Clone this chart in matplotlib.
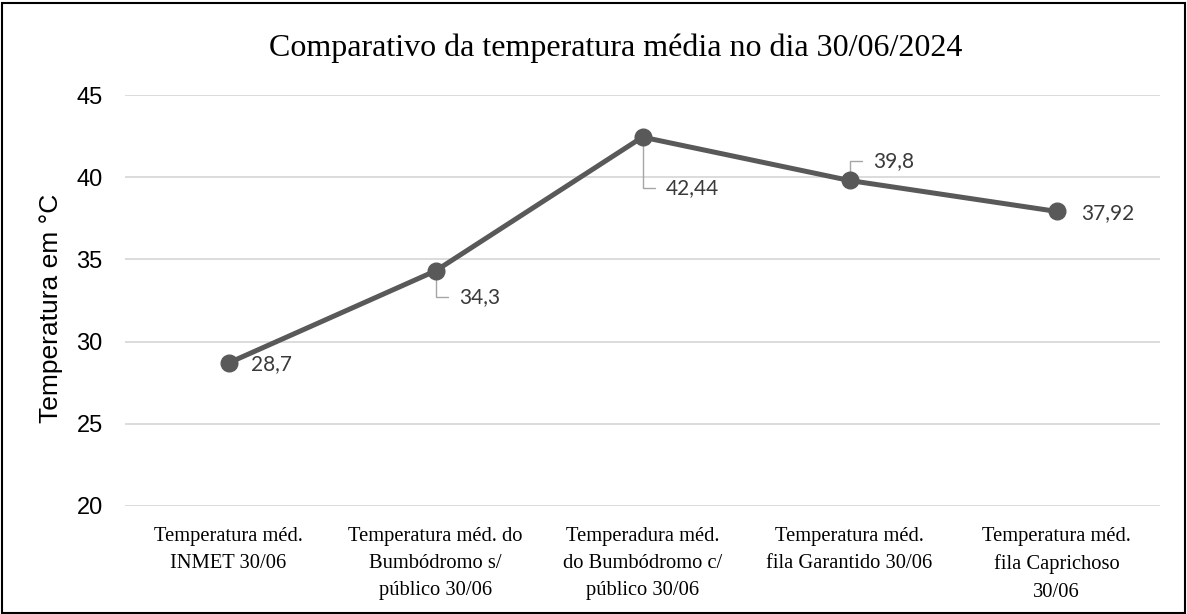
import matplotlib.pyplot as plt
from matplotlib.patches import Rectangle

# dados do grafico
categorias = [
    'Temperatura méd.\nINMET 30/06',
    'Temperatura méd. do\nBumbódromo s/\npúblico 30/06',
    'Temperadura méd.\ndo Bumbódromo c/\npúblico 30/06',
    'Temperatura méd.\nfila Garantido 30/06',
    'Temperatura méd.\nfila Caprichoso\n30/06',
]
temperaturas = [28.7, 34.3, 42.44, 39.8, 37.92]
rotulos = ['28,7', '34,3', '42,44', '39,8', '37,92']
y_ticks = [20, 25, 30, 35, 40, 45]

# deslocamento dos rotulos (pontos) e se tem linha guia
offsets = [(16, -1), (17, -19), (17, -37), (17, 14), (18, -1)]
guia = [False, True, True, True, False]

fig = plt.figure(figsize=(11.87, 6.14), dpi=100)
ax = fig.add_axes([125 / 1187, 1 - 506 / 614, 1035 / 1187, 411 / 614])

x = list(range(len(categorias)))
ax.plot(x, temperaturas, color='#595959', linewidth=3.6, marker='o',
        markersize=12, zorder=3)

for i in x:
    if guia[i]:
        ax.annotate(rotulos[i], (x[i], temperaturas[i]), xytext=offsets[i],
                    textcoords='offset points', ha='left', va='center',
                    fontsize=15, family='Lato', color='#3a3a3a',
                    arrowprops=dict(arrowstyle='-', color='#a6a6a6', lw=1,
                                    connectionstyle='angle,angleA=0,angleB=90,rad=0',
                                    relpos=(0, 0.5), shrinkA=6, shrinkB=0),
                    zorder=2)
    else:
        ax.annotate(rotulos[i], (x[i], temperaturas[i]), xytext=offsets[i],
                    textcoords='offset points', ha='left', va='center',
                    fontsize=15, family='Lato', color='#3a3a3a')

ax.set_xlim(-0.5, 4.5)
ax.set_ylim(20, 45)
ax.set_yticks(y_ticks)
ax.set_xticks(x)
ax.set_xticklabels(categorias, family='Liberation Serif', fontsize=14.8,
                   linespacing=1.58)
ax.tick_params(axis='x', length=0, pad=15)
ax.tick_params(axis='y', length=0, pad=16, labelsize=17)
for lab in ax.get_yticklabels():
    lab.set_family('Liberation Sans')
ax.grid(axis='y', color='#d9d9d9', linewidth=1.3)
ax.set_axisbelow(True)
for s in ax.spines.values():
    s.set_visible(False)

ax.set_ylabel('Temperatura em °C', family='Liberation Sans', fontsize=19)
ax.yaxis.set_label_coords(-74 / 1035, 0.48)
ax.yaxis.label.set_va('center')

fig.text(616 / 1187, 1 - 48 / 614, 'Comparativo da temperatura média no dia 30/06/2024',
         ha='center', va='center', family='Liberation Serif', fontsize=23)

fig.patches.append(Rectangle((2 / 1187, 1 / 614), 1 - 4 / 1187, 1 - 4 / 614,
                             transform=fig.transFigure, fill=False,
                             edgecolor='black', linewidth=1.5))

fig.savefig('out.png', dpi=100)
